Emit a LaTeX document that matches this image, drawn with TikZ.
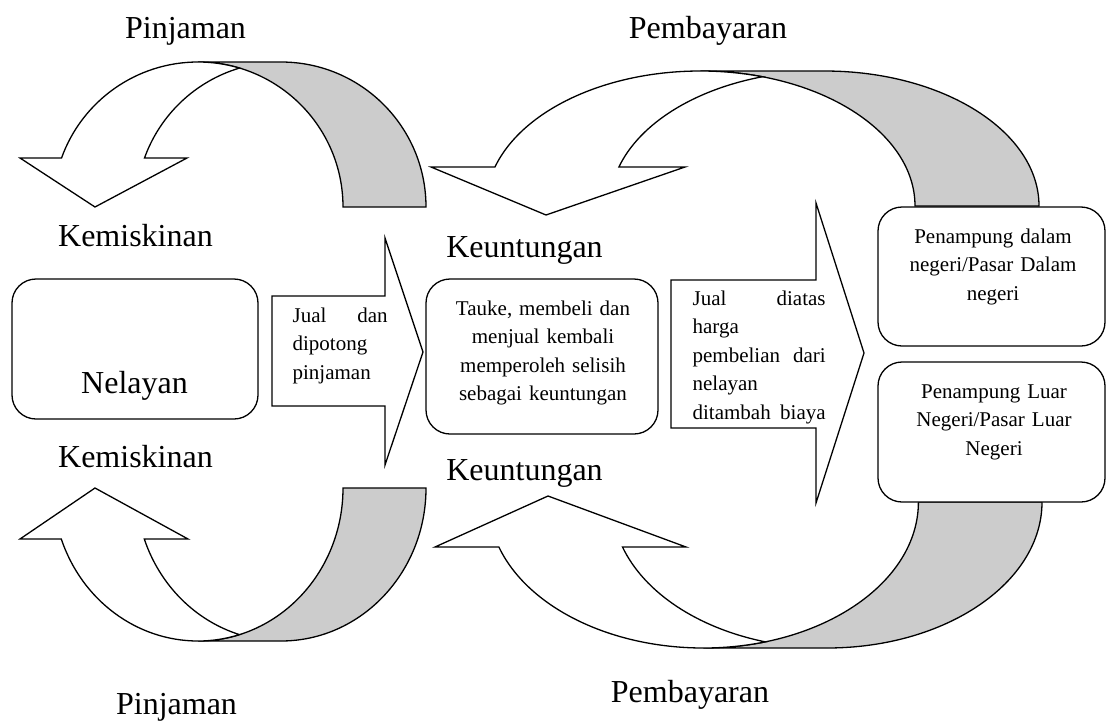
\documentclass[tikz,border=0pt]{standalone}
\usepackage{fontspec}
\setmainfont{Liberation Serif}
\definecolor{bandgray}{RGB}{204,204,204}
\begin{document}
\begin{tikzpicture}[x=1pt,y=-1pt,line width=1.3pt,line join=miter,
  big/.style={font=\fontsize{32}{36}\selectfont,inner sep=0pt,anchor=base},
  small/.style={font=\fontsize{21}{28.5}\selectfont,inner sep=0pt,anchor=base},
  rbox/.style={draw,fill=white,rounded corners=24pt,inner sep=0pt},
  band/.style={draw,fill=bandgray},
  front/.style={draw,fill=white}]
\useasboundingbox (0,0) rectangle (1107,720);

% ---------- top-left curved arrow (Pinjaman) ----------
\path[band] (343,207) arc[start angle=0,end angle=-90,x radius=145,y radius=145]
  -- (281,62) arc[start angle=-90,end angle=0,x radius=145,y radius=145] -- cycle;
\path[front] (198,62) arc[start angle=-90,end angle=-160.25,x radius=145,y radius=145]
  -- (20,158) -- (95,207) -- (187,158) -- (144.5,158)
  arc[start angle=-160.25,end angle=-106.63,x radius=145,y radius=145]
  arc[start angle=-73.37,end angle=-90,x radius=145,y radius=145] -- cycle;

% ---------- top-right curved arrow (Pembayaran) ----------
\path[band] (915,206) arc[start angle=0,end angle=-90,x radius=214.6,y radius=135]
  -- (824.4,71) arc[start angle=-90,end angle=0,x radius=214.6,y radius=135] -- cycle;
\path[front] (700.4,71) arc[start angle=-90,end angle=-163.21,x radius=214.6,y radius=135]
  -- (431,167) -- (546,215) -- (685,167) -- (618.9,167)
  arc[start angle=-163.21,end angle=-106.79,x radius=214.6,y radius=135]
  arc[start angle=-73.21,end angle=-90,x radius=214.6,y radius=135] -- cycle;

% ---------- bottom-left curved arrow (Pinjaman) ----------
\path[band] (343,488) arc[start angle=0,end angle=90,x radius=145,y radius=153]
  -- (281,641) arc[start angle=90,end angle=0,x radius=145,y radius=153] -- cycle;
\path[front] (198,641) arc[start angle=90,end angle=160.53,x radius=145,y radius=153]
  -- (20,539) -- (95,488) -- (188,539) -- (144.3,539)
  arc[start angle=160.53,end angle=106.63,x radius=145,y radius=153]
  arc[start angle=73.37,end angle=90,x radius=145,y radius=153] -- cycle;

% ---------- bottom-right curved arrow (Pembayaran) ----------
\path[band] (918.4,502) arc[start angle=0,end angle=90,x radius=215,y radius=146]
  -- (827,648) arc[start angle=90,end angle=0,x radius=215,y radius=146] -- cycle;
\path[front] (703.4,648) arc[start angle=90,end angle=162.05,x radius=215,y radius=146]
  -- (435,547) -- (548,496) -- (686,547) -- (622.5,547)
  arc[start angle=162.05,end angle=106.70,x radius=215,y radius=146]
  arc[start angle=73.30,end angle=90,x radius=215,y radius=146] -- cycle;

% ---------- straight block arrows ----------
\path[front] (272,296) -- (385,296) -- (385,238) -- (423,352) -- (385,465) -- (385,406) -- (272,406) -- cycle;
\path[front] (671,280) -- (816,280) -- (816,203) -- (864,353) -- (816,503) -- (816,428) -- (671,428) -- cycle;

% ---------- boxes ----------
\node[rbox,minimum width=246pt,minimum height=140pt] (nelayanbox) at (135,349) {};
\node[rbox,minimum width=232pt,minimum height=155pt] (taukebox) at (542,356.5) {};
\node[rbox,minimum width=227pt,minimum height=139pt] (dalambox) at (991.5,276.5) {};
\node[rbox,minimum width=227pt,minimum height=140pt] (luarbox) at (991.5,432) {};

% ---------- box texts ----------
\node[big] (nelayan) at (134.5,393) {Nelayan};
\node[small,text width=240pt,align=center] (tauke) at (543,315)
  {Tauke, membeli dan\\menjual kembali\\memperoleh selisih\\sebagai keuntungan};
\node[small,text width=220pt,align=center] (dalam) at (993,243)
  {Penampung dalam\\negeri/Pasar Dalam\\negeri};
\node[small,text width=220pt,align=center] (luar) at (994,398)
  {Penampung Luar\\Negeri/Pasar Luar\\Negeri};

% ---------- arrow texts ----------
\node[small,text width=95pt,align=left,anchor=base west] (jual1) at (292,322)
  {Jual\hfill dan\\dipotong\\pinjaman};
\node[small,text width=133pt,align=left,anchor=base west] (jual2) at (692,305)
  {Jual\hfill diatas\\harga\\pembelian\hfill dari\\nelayan\\ditambah\hfill biaya};

% ---------- labels ----------
\node[big] (pinjtop) at (185.5,38) {Pinjaman};
\node[big] (bayartop) at (708,38) {Pembayaran};
\node[big] (miskintop) at (135.5,246) {Kemiskinan};
\node[big] (miskinbot) at (135.5,467) {Kemiskinan};
\node[big] (untungtop) at (524.5,257) {Keuntungan};
\node[big] (untungbot) at (524.5,480) {Keuntungan};
\node[big] (pinjbot) at (176.5,714) {Pinjaman};
\node[big] (bayarbot) at (690,702) {Pembayaran};
\end{tikzpicture}
\end{document}
